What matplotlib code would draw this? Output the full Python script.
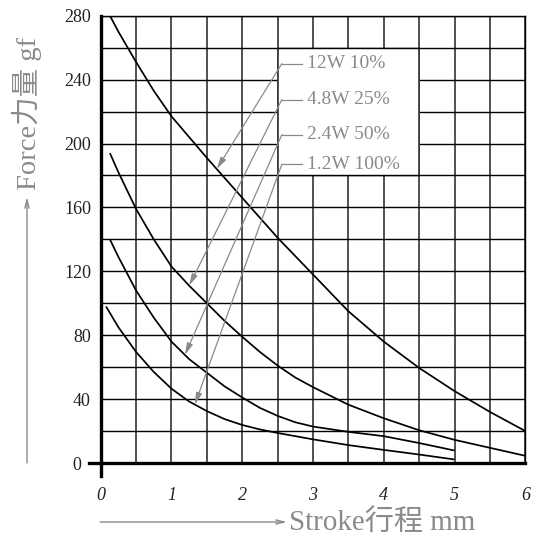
import numpy as np
import matplotlib
matplotlib.use('Agg')
import matplotlib.pyplot as plt
import matplotlib.transforms as mtransforms
from matplotlib.patches import Rectangle

# ---- data ----
stroke_12w = [0.13, 0.25, 0.5, 0.75, 1.0, 1.25, 1.5, 1.75, 2.0, 2.25, 2.5, 3.0, 3.5, 4.0, 4.5, 5.0, 5.5, 6.0]
force_12w = [280, 270, 251, 233, 217, 204, 191, 178.5, 166, 153.5, 141, 118, 95, 76, 59.5, 45, 32, 20]
stroke_48w = [0.13, 0.25, 0.5, 0.75, 1.0, 1.25, 1.5, 1.75, 2.0, 2.25, 2.5, 2.75, 3.0, 3.5, 4.0, 4.5, 5.0, 5.5, 6.0]
force_48w = [194, 182, 159, 140, 123, 111, 100, 89, 79, 69.5, 61, 53.5, 47.5, 36.5, 28, 20.5, 14.5, 9.5, 4.5]
stroke_24w = [0.13, 0.25, 0.5, 0.75, 1.0, 1.25, 1.5, 1.75, 2.0, 2.25, 2.5, 2.75, 3.0, 3.5, 4.0, 4.5, 5.0]
force_24w = [140, 129, 108, 91, 76, 65, 56.5, 48, 41, 34.5, 29.5, 25.5, 22.8, 19.5, 16.8, 12.5, 7.8]
stroke_12w100 = [0.075, 0.25, 0.5, 0.75, 1.0, 1.25, 1.5, 1.75, 2.0, 2.25, 2.5, 3.0, 3.5, 4.0, 4.5, 5.0]
force_12w100 = [98, 85, 69.5, 57, 46.5, 38.5, 32.5, 27.5, 23.8, 21, 18.8, 14.8, 11.2, 8.2, 5.3, 2.2]

series_labels = ['12W 10%', '4.8W 25%', '2.4W 50%', '1.2W 100%']
arrow_tip_x = [1.64, 1.25, 1.19, 1.33]

x_ticks = [0, 1, 2, 3, 4, 5, 6]
y_ticks = [0, 40, 80, 120, 160, 200, 240, 280]

# ---- figure ----
W, H = 539, 538
fig = plt.figure(figsize=(W / 100, H / 100), dpi=100)
ax = fig.add_axes([100.7 / W, 1 - 463 / H, (525.3 - 100.7) / W, (463 - 15.7) / H])
ax.set_xlim(0, 6)
ax.set_ylim(0, 280)

serif = ['Liberation Serif', 'Noto Sans CJK SC']
gray = '#8a8a8a'

# grid
for xv in np.arange(0.5, 6.01, 0.5):
    ax.axvline(xv, color='#3a3a3a', lw=1.25, zorder=1)
for yv in np.arange(20, 281, 20):
    ax.axhline(yv, color='black', lw=1.0, zorder=1)

# label box (white, grid hidden inside)
bx0, bx1, by0, by1 = 2.5, 4.5, 180, 260
ax.add_patch(Rectangle((bx0, by0), bx1 - bx0, by1 - by0, facecolor='white',
                       edgecolor='none', zorder=2))
ax.plot([bx0, bx0], [by0, by1], color='#3a3a3a', lw=1.25, zorder=2.5)
ax.plot([bx1, bx1], [by0, by1], color='#3a3a3a', lw=1.25, zorder=2.5)
ax.plot([bx0, bx1], [by0, by0], color='black', lw=1.0, zorder=2.5)
ax.plot([bx0, bx1], [by1, by1], color='black', lw=1.0, zorder=2.5)

# curves
curves = [(stroke_12w, force_12w), (stroke_48w, force_48w),
          (stroke_24w, force_24w), (stroke_12w100, force_12w100)]
for xs, ys in curves:
    ax.plot(xs, ys, color='black', lw=1.25, zorder=3, solid_capstyle='butt',
            solid_joinstyle='round')

# leaders + labels
label_y = [250, 227.5, 205.5, 187]
corner_x = 2.56
text_x = 2.92
for (xs, ys), lab, ly, tx in zip(curves, series_labels, label_y, arrow_tip_x):
    ty = np.interp(tx, xs, ys)
    ax.plot([corner_x, text_x - 0.08], [ly, ly], color=gray, lw=0.9, zorder=4)
    ax.annotate('', xy=(tx, ty), xytext=(corner_x, ly),
                arrowprops=dict(arrowstyle='-|>,head_width=0.18,head_length=0.7',
                                color=gray, lw=0.9, shrinkA=0, shrinkB=0),
                zorder=4)
    ax.text(text_x, ly, lab, color=gray, fontsize=14, family=serif,
            va='center', ha='left', zorder=5)

# spines
for s in ['top', 'right']:
    ax.spines[s].set_linewidth(1.0)
    ax.spines[s].set_color('black')
for s in ['left', 'bottom']:
    ax.spines[s].set_linewidth(2.4)
    ax.spines[s].set_color('black')
# extensions at origin
ax.plot([-0.16, 0], [0, 0], color='black', lw=2.4, clip_on=False, zorder=6)
ax.plot([0, 0], [-8, 0], color='black', lw=2.4, clip_on=False, zorder=6)

ax.set_xticks(x_ticks)
ax.set_yticks(y_ticks)
ax.set_xticklabels([str(v) for v in x_ticks], fontstyle='italic', family='Liberation Serif',
                   fontsize=13, color='#222222')
ax.set_yticklabels([str(v) for v in y_ticks], family='Liberation Serif',
                   fontsize=13, color='#222222')
ax.tick_params(axis='x', length=0, pad=17)
ax.tick_params(axis='y', length=0, pad=7)
zero_lab = ax.get_yticklabels()[0]
zero_lab.set_transform(zero_lab.get_transform() +
                       mtransforms.ScaledTranslation(-7 / 72, 0, fig.dpi_scale_trans))

# axis titles with arrows
ax.annotate('', xy=(27, H - 197), xytext=(27, H - 463), xycoords='figure pixels',
            textcoords='figure pixels',
            arrowprops=dict(arrowstyle='->,head_width=0.15,head_length=0.6', color=gray, lw=1.0,
                            shrinkA=0, shrinkB=0))
fig.text(27 / W, 1 - 113 / H, 'Force力量 gf', rotation=90, ha='center', va='center',
         color=gray, fontsize=20.5, family=serif)
ax.annotate('', xy=(287, H - 522), xytext=(100, H - 522), xycoords='figure pixels',
            textcoords='figure pixels',
            arrowprops=dict(arrowstyle='->,head_width=0.15,head_length=0.6', color=gray, lw=1.0,
                            shrinkA=0, shrinkB=0))
fig.text(289 / W, 1 - 522 / H, 'Stroke行程 mm', ha='left', va='center',
         color=gray, fontsize=21, family=serif)

fig.savefig('out.png', dpi=100)
